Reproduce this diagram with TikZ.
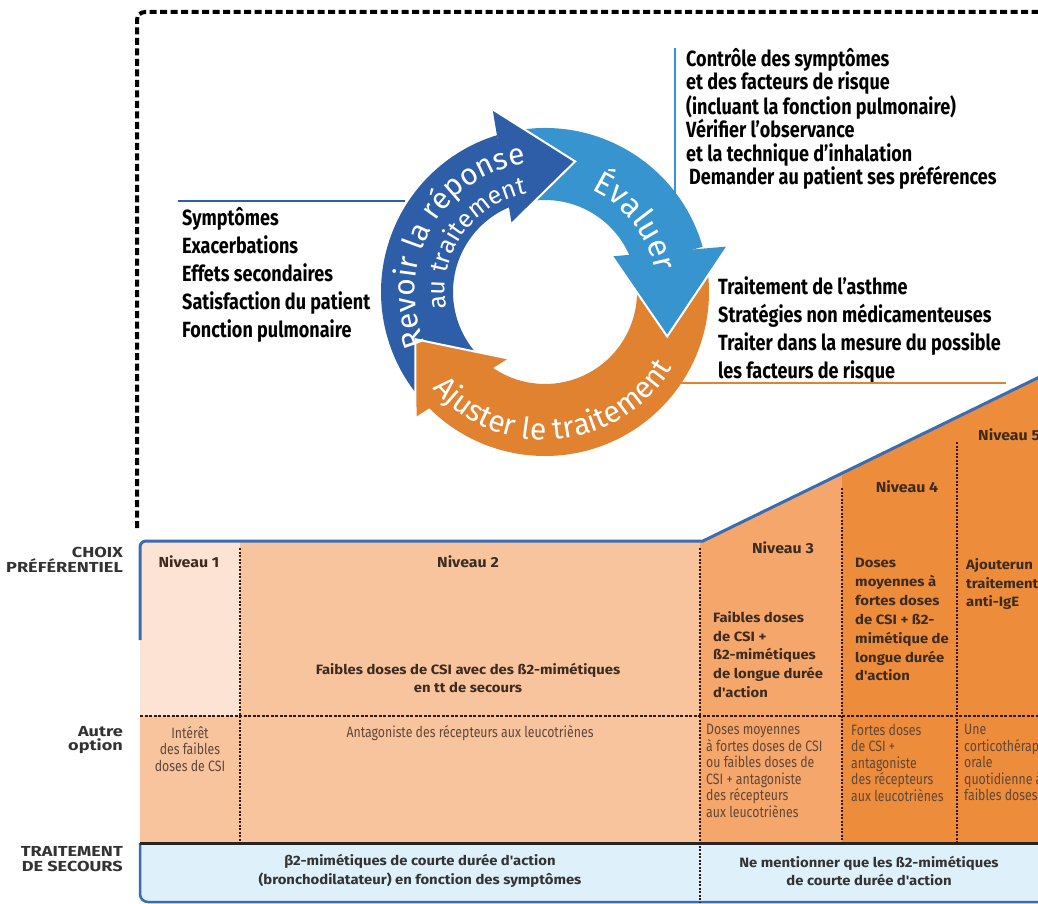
\documentclass[tikz,border=0pt]{standalone}
\usepackage{fontspec}
\setmainfont{Fira Sans}[FakeStretch=0.82]
\newfontfamily\cyclefont{Fira Sans}
\newfontfamily\tabfont{Fira Sans}[FakeStretch=1.1]
\newfontfamily\labfont{Fira Sans}[FakeStretch=1.25]
\usetikzlibrary{calc,decorations.text}
\definecolor{RevoirClr}{rgb}{0.18,0.37,0.66}
\definecolor{EvalClr}{rgb}{0.22,0.58,0.81}
\definecolor{AjustClr}{rgb}{0.88,0.51,0.19}
\definecolor{Niv1Clr}{rgb}{0.99,0.89,0.83}
\definecolor{Niv2Clr}{rgb}{0.97,0.77,0.62}
\definecolor{Niv3Clr}{rgb}{0.96,0.65,0.42}
\definecolor{Niv4Clr}{rgb}{0.93,0.55,0.23}
\definecolor{SecoursClr}{rgb}{0.87,0.94,0.98}
\definecolor{BorderClr}{rgb}{0.23,0.42,0.69}
\definecolor{DotClr}{rgb}{0.2,0.1,0.05}
\definecolor{LabClr}{rgb}{0.2,0.2,0.2}
\definecolor{TextClr}{rgb}{0.24,0.17,0.12}
\definecolor{OptClr}{rgb}{0.38,0.28,0.22}

\begin{document}
\begin{tikzpicture}[x=1pt,y=1pt,
  frame/.style={line width=4pt,dash pattern=on 7pt off 3.5pt},
  dotline/.style={DotClr,line width=2.5pt,dash pattern=on 2pt off 1.5pt},
  side/.style={font=\fontsize{22}{28}\selectfont\bfseries,align=left,inner sep=0pt,anchor=north west},
  lab/.style={font=\labfont\fontsize{14.5}{14.5}\selectfont\bfseries,text=LabClr,align=right,anchor=east,inner sep=0pt},
  niv/.style={font=\tabfont\fontsize{13.5}{18.9}\selectfont\bfseries,text=TextClr,inner sep=0pt},
  opt/.style={font=\fontsize{15}{16.5}\selectfont,text=OptClr,inner sep=0pt},
  ringtext/.style 2 args={decorate,decoration={text along path,text align=center,
    text color=white,text={|\cyclefont\fontsize{#1}{#1}\selectfont|#2}}}]
\useasboundingbox (0,0) rectangle (1038,-904);
\clip (0,0) rectangle (1038,-904);

\coordinate (O) at (545,-292);

% cadre
\draw[frame] (137,-528) [rounded corners=8pt] -- (137,-12) [sharp corners] -- (1060,-12);

% cycle
\begin{scope}[shift={(O)}]
\fill[RevoirClr] (234:92) arc[start angle=234,end angle=112,radius=92] -- (107:164) arc[start angle=107,end angle=220,radius=164] -- cycle;
\fill[EvalClr] (110:92) arc[start angle=110,end angle=16,radius=92] -- (16:164) arc[start angle=16,end angle=100,radius=164] -- cycle;
\fill[AjustClr] (20:92) arc[start angle=20,end angle=-126,radius=92] -- (-138:164) arc[start angle=-138,end angle=8,radius=164] -- cycle;

\fill[RevoirClr] (116:76) -- (106:190) -- (77:134) -- cycle;
\draw[white,line width=2pt] (106:190) -- (77:134) -- (116:76);
\fill[EvalClr] (28:76) -- (14:188) -- (-20:130) -- cycle;
\draw[white,line width=2pt] (14:188) -- (-20:130) -- (28:76);
\fill[AjustClr] (241:76) -- (224:180) -- (200:138) -- cycle;
\draw[white,line width=2pt] (224:180) -- (200:138) -- (241:76);

\path[ringtext={30}{Revoir la réponse}] (236:130) arc[start angle=236,end angle=66,radius=130];
\path[ringtext={25}{au traitement}] (216:100) arc[start angle=216,end angle=74,radius=100];
\path[ringtext={32}{Évaluer}] (102:112) arc[start angle=102,end angle=-26,radius=112];
\path[ringtext={30}{Ajuster le traitement}] (192:148) arc[start angle=192,end angle=358,radius=148];
\end{scope}

% textes du cycle
\node[side] (symp) at (182,-207) {Symptômes\\Exacerbations\\Effets secondaires\\Satisfaction du patient\\Fonction pulmonaire};
\node[side,font=\fontsize{22}{23.4}\selectfont\bfseries] (ctrl) at (686,-48) {Contrôle des symptômes\\et des facteurs de risque\\(incluant la fonction pulmonaire)\\Vérifier l'observance\\et la technique d'inhalation\\\hspace{3pt}Demander au patient ses préférences};
\node[side] (trait) at (718,-276) {Traitement de l'asthme\\Stratégies non médicamenteuses\\Traiter dans la mesure du possible\\les facteurs de risque};

\coordinate (L) at (405,-201);
\coordinate (E) at (675,-195);
\coordinate (A) at (680,-383);
\draw[RevoirClr,line width=2.5pt] ([xshift=-4pt]symp.west |- L) -- (L);
\draw[EvalClr,line width=2.5pt] ([xshift=-11pt]ctrl.north west) -- (E);
\draw[AjustClr,line width=2.5pt] (A) -- ([xshift=5pt]A -| trait.east);

% niveaux
\coordinate (N3) at (703,-541);
\coordinate (N4) at (842,-473);
\coordinate (N5) at (957,-417);
\coordinate (N6) at (1060,-367);
\fill[Niv2Clr] (140,-716) rectangle (700,-843);
\fill[Niv2Clr] (240,-541) rectangle (700,-716);
\fill[Niv1Clr] (140,-716) [rounded corners=6pt] -- (140,-541) [sharp corners] -- (240,-541) -- (240,-716) -- cycle;
\fill[Niv3Clr] (700,-843) -- (700,-541) -- (N3) -- (N4) -- (842,-843) -- cycle;
\fill[Niv4Clr] (842,-843) -- (N4) -- (N5) -- (957,-843) -- cycle;
\fill[Niv4Clr] (957,-843) -- (N5) -- (N6) -- (1060,-843) -- cycle;
\fill[SecoursClr] (140,-843) rectangle (1060,-902);
\draw[BorderClr,line width=2.5pt] (140,-843) [rounded corners=8pt] -- (140,-902) [sharp corners] -- (1060,-902);
\draw[BorderClr,line width=3pt] (140,-640) [rounded corners=6pt] -- (140,-541) [sharp corners] -- (N3) -- (N6);

\draw[DotClr,line width=1.5pt,dash pattern=on 3pt off 1.5pt] (140,-716) -- (1060,-716);
\draw[black!85,line width=3pt] (140,-843) -- (1060,-843);
\draw[dotline] (240,-548) -- (240,-843);
\draw[dotline] (700,-548) -- (700,-902);
\draw[dotline] (842,-488) -- (842,-843);
\draw[dotline] (957,-442) -- (957,-843);

\node[lab] (choix) at (123,-560) {CHOIX\\PRÉFÉRENTIEL};
\node[lab] (autre) at (123,-740) {Autre\\option};
\node[lab] (secours) at (123,-859) {TRAITEMENT\\DE SECOURS};

\node[niv,font=\tabfont\fontsize{14.5}{17}\selectfont\bfseries] (n1) at (189,-562) {Niveau 1};
\node[niv,font=\tabfont\fontsize{14.5}{17}\selectfont\bfseries] (n2) at (468,-562) {Niveau 2};
\node[niv,font=\tabfont\fontsize{14.5}{17}\selectfont\bfseries] (n3) at (783,-548) {Niveau 3};
\node[niv,font=\tabfont\fontsize{14.5}{17}\selectfont\bfseries] (n4) at (907,-487) {Niveau 4};
\node[niv,font=\tabfont\fontsize{14.5}{17}\selectfont\bfseries,anchor=west] (n5) at (978,-435) {Niveau 5};

\node[niv,align=center] (t2) at (468,-678) {Faibles doses de CSI avec des ß2-mimétiques\\en tt de secours};
\node[niv,align=left,anchor=north west] (t3) at (713,-611) {Faibles doses\\de CSI +\\ß2-mimétiques\\de longue durée\\d'action};
\node[niv,align=left,anchor=north west] (t4) at (855,-558) {Doses\\moyennes à\\fortes doses\\de CSI + ß2-\\mimétique de\\longue durée\\d'action};
\node[niv,align=left,anchor=north west] (t5) at (966,-558) {Ajouterun\\traitement\\anti-IgE};

\node[opt,align=center,anchor=north] (o1) at (190,-726) {Intérêt\\des faibles\\doses de CSI};
\node[opt] (o2) at (470,-733) {Antagoniste des récepteurs aux leucotriènes};
\node[opt,align=left,anchor=north west] (o3) at (706,-724) {Doses moyennes\\à fortes doses de CSI\\ou faibles doses de\\CSI + antagoniste\\des récepteurs\\aux leucotriènes};
\node[opt,align=left,anchor=north west] (o4) at (851,-724) {Fortes doses\\de CSI +\\antagoniste\\des récepteurs\\aux leucotriènes};
\node[opt,align=left,anchor=north west] (o5) at (964,-724) {Une\\corticothérapie\\orale\\quotidienne à\\faibles doses};

\node[niv,align=center,text=LabClr] (s1) at (420,-871) {β2-mimétiques de courte durée d'action\\(bronchodilatateur) en fonction des symptômes};
\node[niv,align=center,text=LabClr] (s2) at (869,-871) {Ne mentionner que les ß2-mimétiques\\de courte durée d'action};

\end{tikzpicture}
\end{document}
